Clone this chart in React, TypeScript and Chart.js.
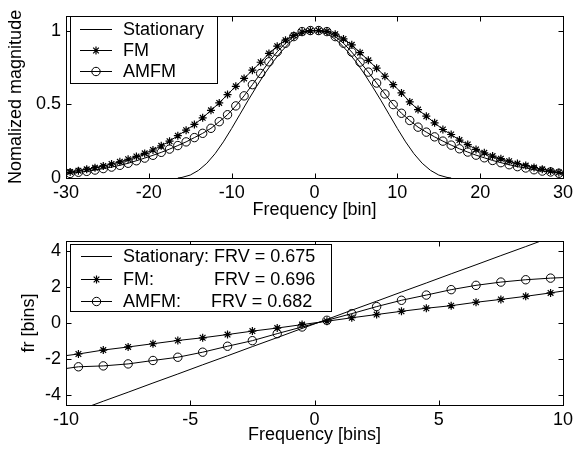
import React, { useEffect, useRef } from 'react';
import { Chart, registerables } from 'chart.js';
import { drawPoint } from 'chart.js/helpers';

Chart.register(...registerables);

const FONT_FAMILY = '"Liberation Sans", Arial, Helvetica, sans-serif';
const FONT_SIZE = 18;

// ---------------- Top panel data ----------------
const topXTicks = [-30, -20, -10, 0, 10, 20, 30];
const topYTicks = [0, 0.5, 1];
const topLegendLabels = ['Stationary', 'FM', 'AMFM'];

const stationaryBins = [
  -16.5, -16, -15, -14, -13, -12, -11, -10, -9, -8, -7, -6, -5, -4, -3, -2, -1,
  0, 1, 2, 3, 4, 5, 6, 7, 8, 9, 10, 11, 12, 13, 14, 15, 16, 16.5,
];
const stationaryMag = [
  0, 0.004, 0.02, 0.052, 0.1, 0.165, 0.245, 0.336, 0.432, 0.528, 0.62, 0.708, 0.788, 0.858, 0.918, 0.962, 0.99,
  1.0, 0.99, 0.962, 0.918, 0.858, 0.788, 0.708, 0.62, 0.528, 0.432, 0.336, 0.245, 0.165, 0.1, 0.052, 0.02, 0.004, 0,
];

const modBins = [
  -30.5, -29.5, -28.5, -27.5, -26.5, -25.5, -24.5, -23.5, -22.5, -21.5, -20.5,
  -19.5, -18.5, -17.5, -16.5, -15.5, -14.5, -13.5, -12.5, -11.5, -10.5,
  -9.5, -8.5, -7.5, -6.5, -5.5, -4.5, -3.5, -2.5, -1.5, -0.5,
  0.5, 1.5, 2.5, 3.5, 4.5, 5.5, 6.5, 7.5, 8.5, 9.5,
  10.5, 11.5, 12.5, 13.5, 14.5, 15.5, 16.5, 17.5, 18.5, 19.5,
  20.5, 21.5, 22.5, 23.5, 24.5, 25.5, 26.5, 27.5, 28.5, 29.5, 30.5,
];
const fmMag = [
  0.032, 0.04, 0.049, 0.059, 0.07, 0.082, 0.095, 0.11, 0.127, 0.146, 0.167,
  0.19, 0.218, 0.25, 0.287, 0.324, 0.363, 0.408, 0.459, 0.509, 0.566,
  0.622, 0.675, 0.731, 0.785, 0.845, 0.894, 0.935, 0.967, 0.99, 0.999,
  1.0, 0.995, 0.975, 0.943, 0.903, 0.85, 0.798, 0.745, 0.69, 0.633,
  0.577, 0.516, 0.464, 0.419, 0.374, 0.329, 0.295, 0.257, 0.227, 0.194,
  0.171, 0.149, 0.131, 0.114, 0.098, 0.084, 0.071, 0.059, 0.048, 0.038, 0.03,
];
const amfmMag = [
  0.025, 0.031, 0.039, 0.045, 0.054, 0.064, 0.074, 0.086, 0.1, 0.117, 0.135,
  0.154, 0.174, 0.196, 0.22, 0.245, 0.274, 0.303, 0.337, 0.382, 0.429,
  0.489, 0.557, 0.633, 0.709, 0.788, 0.856, 0.914, 0.959, 0.993, 1.0,
  1.0, 0.993, 0.959, 0.914, 0.854, 0.786, 0.718, 0.644, 0.57, 0.498,
  0.439, 0.39, 0.345, 0.311, 0.279, 0.25, 0.223, 0.198, 0.176, 0.155,
  0.137, 0.119, 0.104, 0.09, 0.077, 0.068, 0.056, 0.047, 0.041, 0.032, 0.026,
];

// ---------------- Bottom panel data ----------------
const botXTicks = [-10, -5, 0, 5, 10];
const botYTicks = [-4, -2, 0, 2, 4];
const botLegendLabels = [
  'Stationary: FRV = 0.675',
  'FM:            FRV = 0.696',
  'AMFM:      FRV = 0.682',
];

const frBins = [
  -10.5, -9.5, -8.5, -7.5, -6.5, -5.5, -4.5, -3.5, -2.5, -1.5, -0.5,
  0.5, 1.5, 2.5, 3.5, 4.5, 5.5, 6.5, 7.5, 8.5, 9.5, 10.5,
];
const stationaryFr = [
  -5.35, -4.85, -4.34, -3.84, -3.33, -2.83, -2.32, -1.82, -1.31, -0.81, -0.3,
  0.2, 0.71, 1.21, 1.72, 2.22, 2.73, 3.23, 3.74, 4.24, 4.75, 5.25,
];
const fmFr = [
  -1.9, -1.72, -1.5, -1.33, -1.15, -0.97, -0.82, -0.64, -0.45, -0.28, -0.09,
  0.1, 0.29, 0.47, 0.65, 0.82, 0.96, 1.15, 1.31, 1.48, 1.67, 1.88,
];
const amfmFr = [
  -2.62, -2.43, -2.38, -2.27, -2.08, -1.9, -1.62, -1.29, -0.98, -0.59, -0.22,
  0.15, 0.52, 0.91, 1.26, 1.55, 1.85, 2.09, 2.27, 2.4, 2.49, 2.55,
];

// ---------------- helpers ----------------
const pts = (xs: number[], ys: number[]) => xs.map((x, i) => ({ x, y: ys[i] }));
const font = { family: FONT_FAMILY, size: FONT_SIZE, lineHeight: 1.2 };

const matlabPlugin = {
  id: 'matlab',
  afterDraw(chart: any, _args: any, o: any) {
    const ctx = chart.ctx as CanvasRenderingContext2D;
    const { left, right, top, bottom } = chart.chartArea;
    const xs = chart.scales.x;
    const ys = chart.scales.y;
    const L = 5;
    const l = Math.round(left) + 0.5;
    const r = Math.round(right) + 0.5;
    const t = Math.round(top) + 0.5;
    const b = Math.round(bottom) + 0.5;
    ctx.save();
    ctx.strokeStyle = '#000';
    ctx.lineWidth = 1;
    ctx.beginPath();
    for (const tk of xs.ticks) {
      const x = Math.round(xs.getPixelForValue(tk.value)) + 0.5;
      ctx.moveTo(x, b);
      ctx.lineTo(x, b - L);
      ctx.moveTo(x, t);
      ctx.lineTo(x, t + L);
    }
    for (const tk of ys.ticks) {
      const y = Math.round(ys.getPixelForValue(tk.value)) + 0.5;
      ctx.moveTo(l, y);
      ctx.lineTo(l + L, y);
      ctx.moveTo(r, y);
      ctx.lineTo(r - L, y);
    }
    ctx.stroke();
    ctx.strokeRect(l, t, r - l, b - t);

    // legend
    const [bx1, by1, bx2, by2] = o.box;
    ctx.fillStyle = '#fff';
    ctx.fillRect(bx1, by1, bx2 - bx1, by2 - by1);
    ctx.strokeStyle = '#000';
    ctx.lineWidth = 1;
    ctx.strokeRect(Math.round(bx1) + 0.5, Math.round(by1) + 0.5, Math.round(bx2 - bx1), Math.round(by2 - by1));
    chart.data.datasets.forEach((ds: any, i: number) => {
      const y = Math.round(o.rows[i]) + 0.5;
      ctx.strokeStyle = ds.borderColor;
      ctx.lineWidth = ds.borderWidth;
      ctx.beginPath();
      ctx.moveTo(o.lineX[0], y);
      ctx.lineTo(o.lineX[1], y);
      ctx.stroke();
      if (ds.pointRadius > 0) {
        ctx.strokeStyle = ds.pointBorderColor;
        ctx.fillStyle = ds.pointBackgroundColor;
        ctx.lineWidth = ds.pointBorderWidth;
        drawPoint(ctx, { pointStyle: ds.pointStyle, radius: ds.pointRadius, borderWidth: ds.pointBorderWidth, rotation: 0 } as any,
          (o.lineX[0] + o.lineX[1]) / 2, y);
      }
      ctx.fillStyle = '#000';
      ctx.font = `${FONT_SIZE}px ${FONT_FAMILY}`;
      ctx.textBaseline = 'middle';
      ctx.textAlign = 'left';
      ctx.fillText(ds.label, o.textX, y + 0.5);
    });
    ctx.restore();
  },
};

function makeDatasets(labels: string[], stat: any[], fm: any[], amfm: any[]) {
  return [
    { label: labels[0], data: stat, borderColor: '#000', borderWidth: 1, pointRadius: 0, pointHoverRadius: 0, fill: false, tension: 0 },
    {
      label: labels[1], data: fm, borderColor: '#000', borderWidth: 1, fill: false, tension: 0,
      pointStyle: 'star', pointRadius: 4, pointHoverRadius: 4, pointBorderWidth: 1.2,
      pointBorderColor: '#000', pointBackgroundColor: 'rgba(0,0,0,0)',
    },
    {
      label: labels[2], data: amfm, borderColor: '#000', borderWidth: 1, fill: false, tension: 0,
      pointStyle: 'circle', pointRadius: 4.2, pointHoverRadius: 4.2, pointBorderWidth: 1,
      pointBorderColor: '#000', pointBackgroundColor: 'rgba(0,0,0,0)',
    },
  ];
}

function makeConfig(p: any): any {
  return {
    type: 'line',
    data: { datasets: p.datasets },
    plugins: [matlabPlugin],
    options: {
      responsive: false,
      animation: false,
      devicePixelRatio: 1,
      events: [],
      layout: { padding: { top: p.padTop, right: 17, left: 0, bottom: 0 } },
      plugins: {
        legend: { display: false },
        tooltip: { enabled: false },
        matlab: p.legend,
      },
      scales: {
        x: {
          type: 'linear',
          min: p.xMin,
          max: p.xMax,
          afterBuildTicks: (s: any) => { s.ticks = p.xTicks.map((v: number) => ({ value: v })); },
          afterFit: (s: any) => { s.height = p.xAxisH; },
          grid: { display: false, drawTicks: false },
          border: { display: false },
          ticks: { color: '#000', font, padding: 4, maxRotation: 0, autoSkip: false, callback: (v: any) => String(v) },
          title: { display: true, text: p.xTitle, color: '#000', font, padding: { top: 0, bottom: p.xTitlePad } },
        },
        y: {
          type: 'linear',
          min: p.yMin,
          max: p.yMax,
          afterBuildTicks: (s: any) => { s.ticks = p.yTicks.map((v: number) => ({ value: v })); },
          afterFit: (s: any) => { s.width = 66; },
          grid: { display: false, drawTicks: false },
          border: { display: false },
          ticks: { color: '#000', font, padding: 5, autoSkip: false, callback: (v: any) => String(v) },
          title: { display: true, text: p.yTitle, color: '#000', font, padding: { top: p.yTitlePad, bottom: 0 } },
        },
      },
    },
  };
}

export default function App() {
  const topRef = useRef<HTMLCanvasElement>(null);
  const botRef = useRef<HTMLCanvasElement>(null);

  useEffect(() => {
    const topChart = new Chart(topRef.current as HTMLCanvasElement, makeConfig({
      datasets: makeDatasets(topLegendLabels, pts(stationaryBins, stationaryMag), pts(modBins, fmMag), pts(modBins, amfmMag)),
      padTop: 12, xAxisH: 47,
      xMin: -30, xMax: 30, xTicks: topXTicks, xTitle: 'Frequency [bin]', xTitlePad: 4,
      yMin: 0, yMax: 1.1, yTicks: topYTicks, yTitle: 'Nomalized magnitude', yTitlePad: 5,
      legend: { box: [70, 16, 217, 83], rows: [28.5, 50, 71], lineX: [80, 112], textX: 123 },
    }));
    const botChart = new Chart(botRef.current as HTMLCanvasElement, makeConfig({
      datasets: makeDatasets(botLegendLabels, pts(frBins, stationaryFr), pts(frBins, fmFr), pts(frBins, amfmFr)),
      padTop: 16, xAxisH: 45,
      xMin: -10, xMax: 10, xTicks: botXTicks, xTitle: 'Frequency [bins]', xTitlePad: 4,
      yMin: -4.55, yMax: 4.55, yTicks: botYTicks, yTitle: 'fr [bins]', yTitlePad: 18,
      legend: { box: [70, 19, 331, 86], rows: [31, 54, 76], lineX: [81, 112], textX: 123 },
    }));
    return () => {
      topChart.destroy();
      botChart.destroy();
    };
  }, []);

  return (
    <div style={{ position: 'absolute', left: 0, top: 0, width: 580, height: 450, background: '#fff' }}>
      <canvas ref={topRef} width={580} height={225} style={{ position: 'absolute', left: 0, top: 0 }} />
      <canvas ref={botRef} width={580} height={225} style={{ position: 'absolute', left: 0, top: 225 }} />
    </div>
  );
}
